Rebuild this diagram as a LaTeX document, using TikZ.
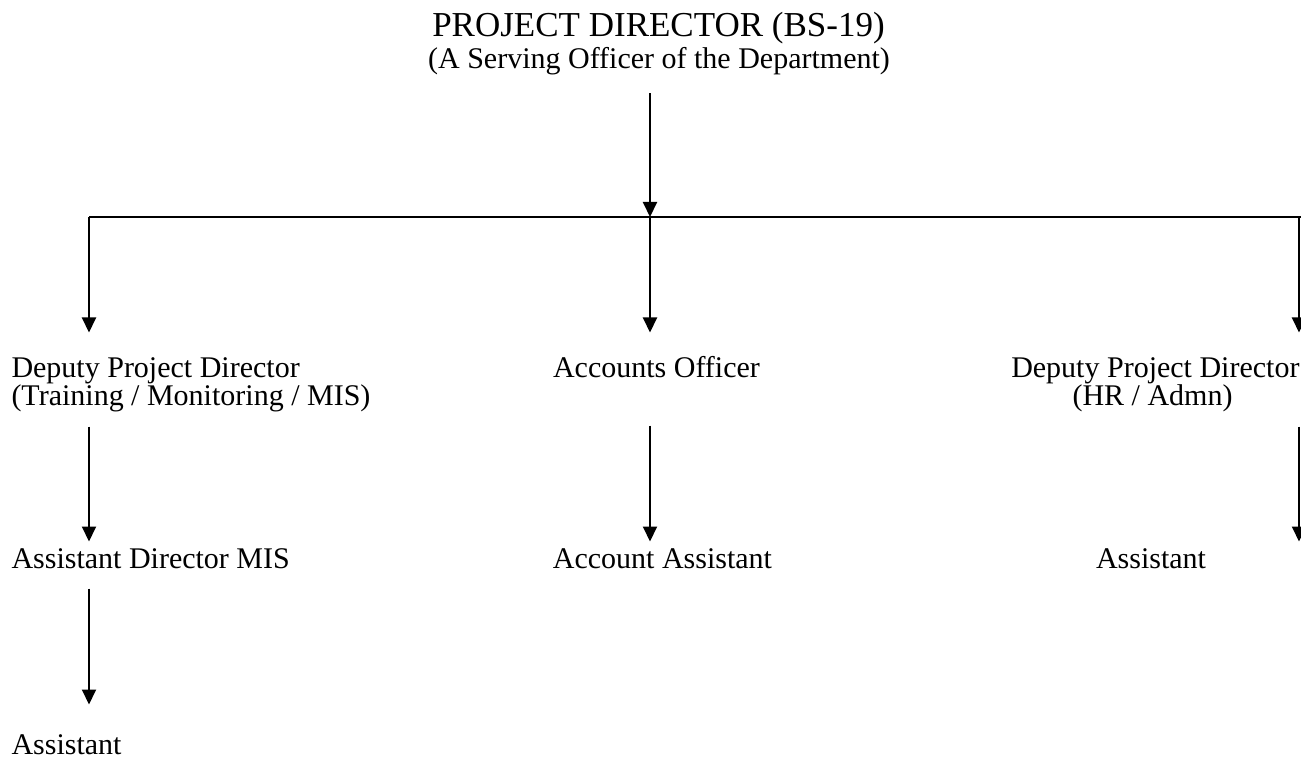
\documentclass[tikz,border=0pt]{standalone}
\usepackage{fontspec}
\setmainfont{Liberation Serif}
\usetikzlibrary{arrows.meta}
\begin{document}
\begin{tikzpicture}[x=0.4pt,y=-0.4pt,>={Triangle[width=5.6pt,length=6pt]},
	lbl/.style={inner sep=0pt,text height=8pt,text depth=2.8pt,font=\fontsize{12pt}{14pt}\selectfont},
	head/.style={lbl,text height=9.6pt,font=\fontsize{14pt}{16pt}\selectfont},
	arr/.style={->,line width=0.8pt}]
\useasboundingbox (0,0) rectangle (1301,759);
\node[head,anchor=base] (pd) at (658.5,37) {PROJECT DIRECTOR (BS-19)};
\node[lbl,anchor=base] (pdsub) at (659,69) {(A Serving Officer of the Department)};
\coordinate (busL) at (89,217);
\coordinate (bus) at (650,217);
\coordinate (busR) at (1299,217);
\coordinate (busend) at (1302,217);
\draw[line width=0.8pt] (busL) -- (busend);
\draw[arr,shorten <=6.8pt] (bus |- pdsub.south) -- (bus);
\node[lbl,anchor=base west] (dpdA) at (11,377) {Deputy Project Director};
\node[lbl,anchor=base west] (dpdAsub) at (11,405) {(Training / Monitoring / MIS)};
\node[lbl,anchor=base] (ao) at (656.5,377) {Accounts Officer};
\node[lbl,anchor=base east] (dpdB) at (1300,377) {Deputy Project Director};
\node[lbl,anchor=base] (dpdBsub) at (1152.5,405) {(HR / Admn)};
\node[lbl,anchor=base west] (admis) at (11,568) {Assistant Director MIS};
\node[lbl,anchor=base] (aa) at (662.5,568) {Account Assistant};
\node[lbl,anchor=base] (asB) at (1151,568) {Assistant};
\node[lbl,anchor=base west] (asA) at (11,754) {Assistant};
\foreach \c/\n in {busL/dpdA,bus/ao,busR/dpdB}
	\draw[arr,shorten >=9.6pt] (\c) -- (\c |- \n.north);
\draw[arr,shorten <=5.6pt,shorten >=2.4pt] (busL |- dpdAsub.south) -- (busL |- admis.north);
\draw[arr,shorten <=16.4pt,shorten >=2.4pt] (bus |- ao.south) -- (bus |- aa.north);
\draw[arr,shorten <=5.6pt,shorten >=2.4pt] (busR |- dpdBsub.south) -- (busR |- asB.north);
\draw[arr,shorten <=5.2pt,shorten >=11.6pt] (busL |- admis.south) -- (busL |- asA.north);
\end{tikzpicture}
\end{document}
